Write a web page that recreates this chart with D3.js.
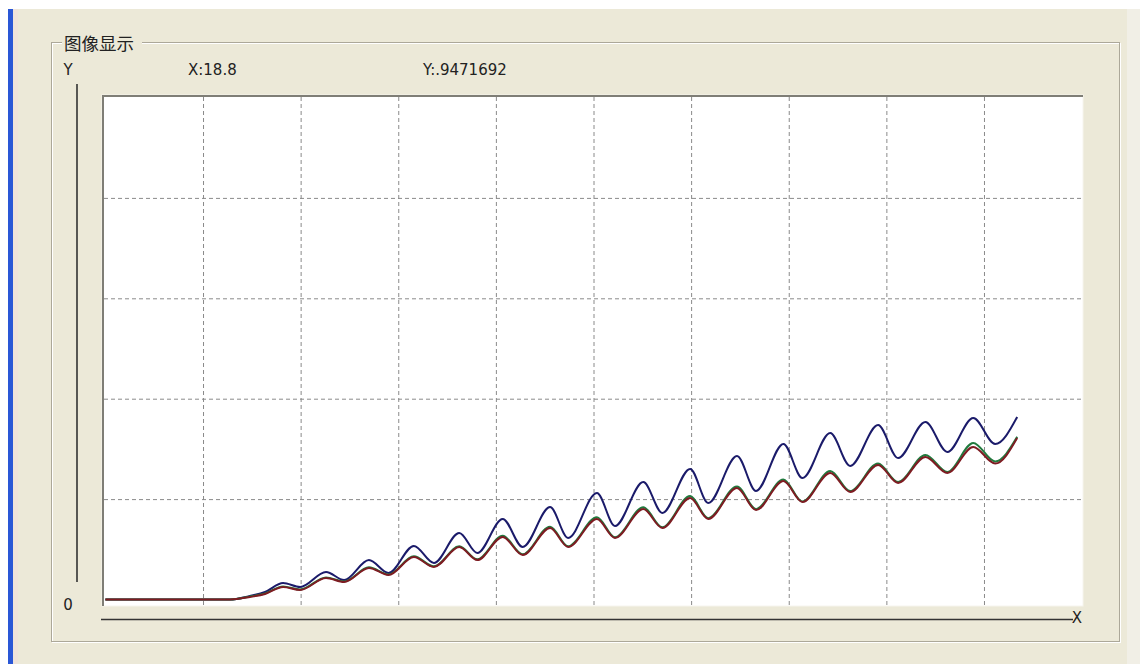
<!DOCTYPE html>
<html>
<head>
<meta charset="utf-8">
<script src="https://cdn.jsdelivr.net/npm/d3@7/dist/d3.min.js"></script>
<style>
  html, body { margin: 0; padding: 0; background: #ffffff; }
  svg { display: block; }
  text { font-family: "DejaVu Sans", sans-serif; fill: #222; }
</style>
</head>
<body>
<svg id="chart" width="1140" height="664"></svg>
<script>
// Sample times (seconds) at each extremum of the response
const time = [0, 2.55, 2.96, 3.27, 3.64, 3.99, 4.52, 4.89, 5.40, 5.80, 6.32, 6.73,
  7.25, 7.62, 8.14, 8.55, 9.11, 9.48, 10.07, 10.44, 11.02, 11.41, 11.98, 12.35,
  12.94, 13.33, 13.89, 14.28, 14.85, 15.26, 15.83, 16.24, 16.80, 17.25, 17.78,
  18.23, 18.68];

// Channel responses
const blueSeries = [0, 0, 0.035, 0.075, 0.164, 0.125, 0.274, 0.194, 0.393, 0.264,
  0.533, 0.364, 0.662, 0.463, 0.802, 0.523, 0.921, 0.613, 1.061, 0.732, 1.170,
  0.862, 1.300, 0.961, 1.429, 1.081, 1.549, 1.210, 1.658, 1.330, 1.738, 1.409,
  1.768, 1.469, 1.808, 1.549, 1.818];

const greenSeries = [0, 0, 0.03, 0.06, 0.13, 0.10, 0.22, 0.18, 0.32, 0.25, 0.43,
  0.33, 0.53, 0.40, 0.635, 0.45, 0.725, 0.53, 0.82, 0.62, 0.92, 0.72, 1.03, 0.81,
  1.125, 0.90, 1.195, 0.975, 1.28, 1.08, 1.355, 1.17, 1.44, 1.27, 1.56, 1.375, 1.62];

const redSeries = [0, 0, 0.025, 0.055, 0.125, 0.095, 0.214, 0.174, 0.314, 0.244,
  0.423, 0.324, 0.523, 0.393, 0.623, 0.443, 0.712, 0.523, 0.802, 0.613, 0.901,
  0.712, 1.011, 0.802, 1.111, 0.891, 1.180, 0.971, 1.260, 1.071, 1.340, 1.161,
  1.420, 1.260, 1.519, 1.354, 1.609];

const xTicks = [2, 4, 6, 8, 10, 12, 14, 16, 18];
const yTicks = [1, 2, 3, 4];
const yTickLabels = ["0"];

const titleText = "图像显示";
const cursorX = "X:18.8";
const cursorY = "Y:.9471692";

const svg = d3.select("#chart");

// window background
svg.append("rect").attr("x", 0).attr("y", 0).attr("width", 1140).attr("height", 664).attr("fill", "#ffffff");
svg.append("rect").attr("x", 13).attr("y", 9).attr("width", 1114).attr("height", 655).attr("fill", "#ECE9D8");
svg.append("rect").attr("x", 1127).attr("y", 9).attr("width", 13).attr("height", 655).attr("fill", "#F1EFE6");
svg.append("rect").attr("x", 13).attr("y", 9).attr("width", 5).attr("height", 655).attr("fill", "#EFE3DA");
svg.append("rect").attr("x", 8).attr("y", 9).attr("width", 5).attr("height", 655).attr("fill", "#2A57D6");

// group box frame
svg.append("rect").attr("x", 52.5).attr("y", 43.5).attr("width", 1068).attr("height", 599)
  .attr("fill", "none").attr("stroke", "#ffffff").attr("stroke-width", 1);
svg.append("rect").attr("x", 51.5).attr("y", 42.5).attr("width", 1068).attr("height", 599)
  .attr("fill", "none").attr("stroke", "#ACA899").attr("stroke-width", 1);
svg.append("rect").attr("x", 62).attr("y", 34).attr("width", 80).attr("height", 16).attr("fill", "#ECE9D8");
svg.append("text").attr("x", 64).attr("y", 50)
  .style("font-family", "'Noto Sans CJK SC', sans-serif").style("font-size", "17.5px")
  .text(titleText);

// plot area
const x = d3.scaleLinear().domain([0, 20]).range([105.4, 1081.6]);
const y = d3.scaleLinear().domain([0, 5]).range([599.5, 97.5]);

svg.append("rect").attr("x", 102).attr("y", 95).attr("width", 981).attr("height", 511)
  .attr("fill", "#ffffff").attr("stroke", "#F6F5EE").attr("stroke-width", 1);
svg.append("line").attr("x1", 103).attr("x2", 1083).attr("y1", 96).attr("y2", 96)
  .attr("stroke", "#7F7E76").attr("stroke-width", 2);
svg.append("line").attr("x1", 103).attr("x2", 103).attr("y1", 95).attr("y2", 606)
  .attr("stroke", "#7F7E76").attr("stroke-width", 2);

// dashed grid drawn from the axes
const gridX = svg.append("g").attr("transform", "translate(0,605)")
  .call(d3.axisBottom(x).tickValues(xTicks).tickSize(-508).tickFormat(""));
const gridY = svg.append("g").attr("transform", "translate(104,0)")
  .call(d3.axisLeft(y).tickValues(yTicks).tickSize(-978).tickFormat(""));
[gridX, gridY].forEach(g => {
  g.select(".domain").remove();
  g.selectAll(".tick line").attr("stroke", "#8A8A8A").attr("stroke-width", 1)
    .attr("stroke-dasharray", "4,3");
});

// signal traces
const line = d3.line().x((d, i) => x(time[i])).y(d => y(d)).curve(d3.curveMonotoneX);
[[blueSeries, "#1B1B6A"], [greenSeries, "#217A3E"], [redSeries, "#7E1C22"]].forEach(([s, c]) => {
  svg.append("path").datum(s).attr("d", line)
    .attr("fill", "none").attr("stroke", c).attr("stroke-width", 2)
    .attr("stroke-linejoin", "round");
});

// outer axes
svg.append("line").attr("x1", 77).attr("x2", 77).attr("y1", 84).attr("y2", 582)
  .attr("stroke", "#333", ).attr("stroke-width", 1.6);
svg.append("line").attr("x1", 101).attr("x2", 1073).attr("y1", 619.5).attr("y2", 619.5)
  .attr("stroke", "#333").attr("stroke-width", 1.6);
svg.append("text").attr("x", 1077).attr("y", 623).attr("text-anchor", "middle")
  .style("font-size", "15px").text("X");

svg.append("text").attr("x", 68).attr("y", 75).attr("text-anchor", "middle")
  .style("font-size", "15px").text("Y");
svg.selectAll(".ylab").data(yTickLabels).enter().append("text").attr("class", "ylab")
  .attr("x", 68).attr("y", y(0) + 10).attr("text-anchor", "middle")
  .style("font-size", "15px").text(d => d);

// cursor readout
svg.append("text").attr("x", 188).attr("y", 75).style("font-size", "15px").text(cursorX);
svg.append("text").attr("x", 423).attr("y", 75).style("font-size", "15px").text(cursorY);
</script>
</body>
</html>
